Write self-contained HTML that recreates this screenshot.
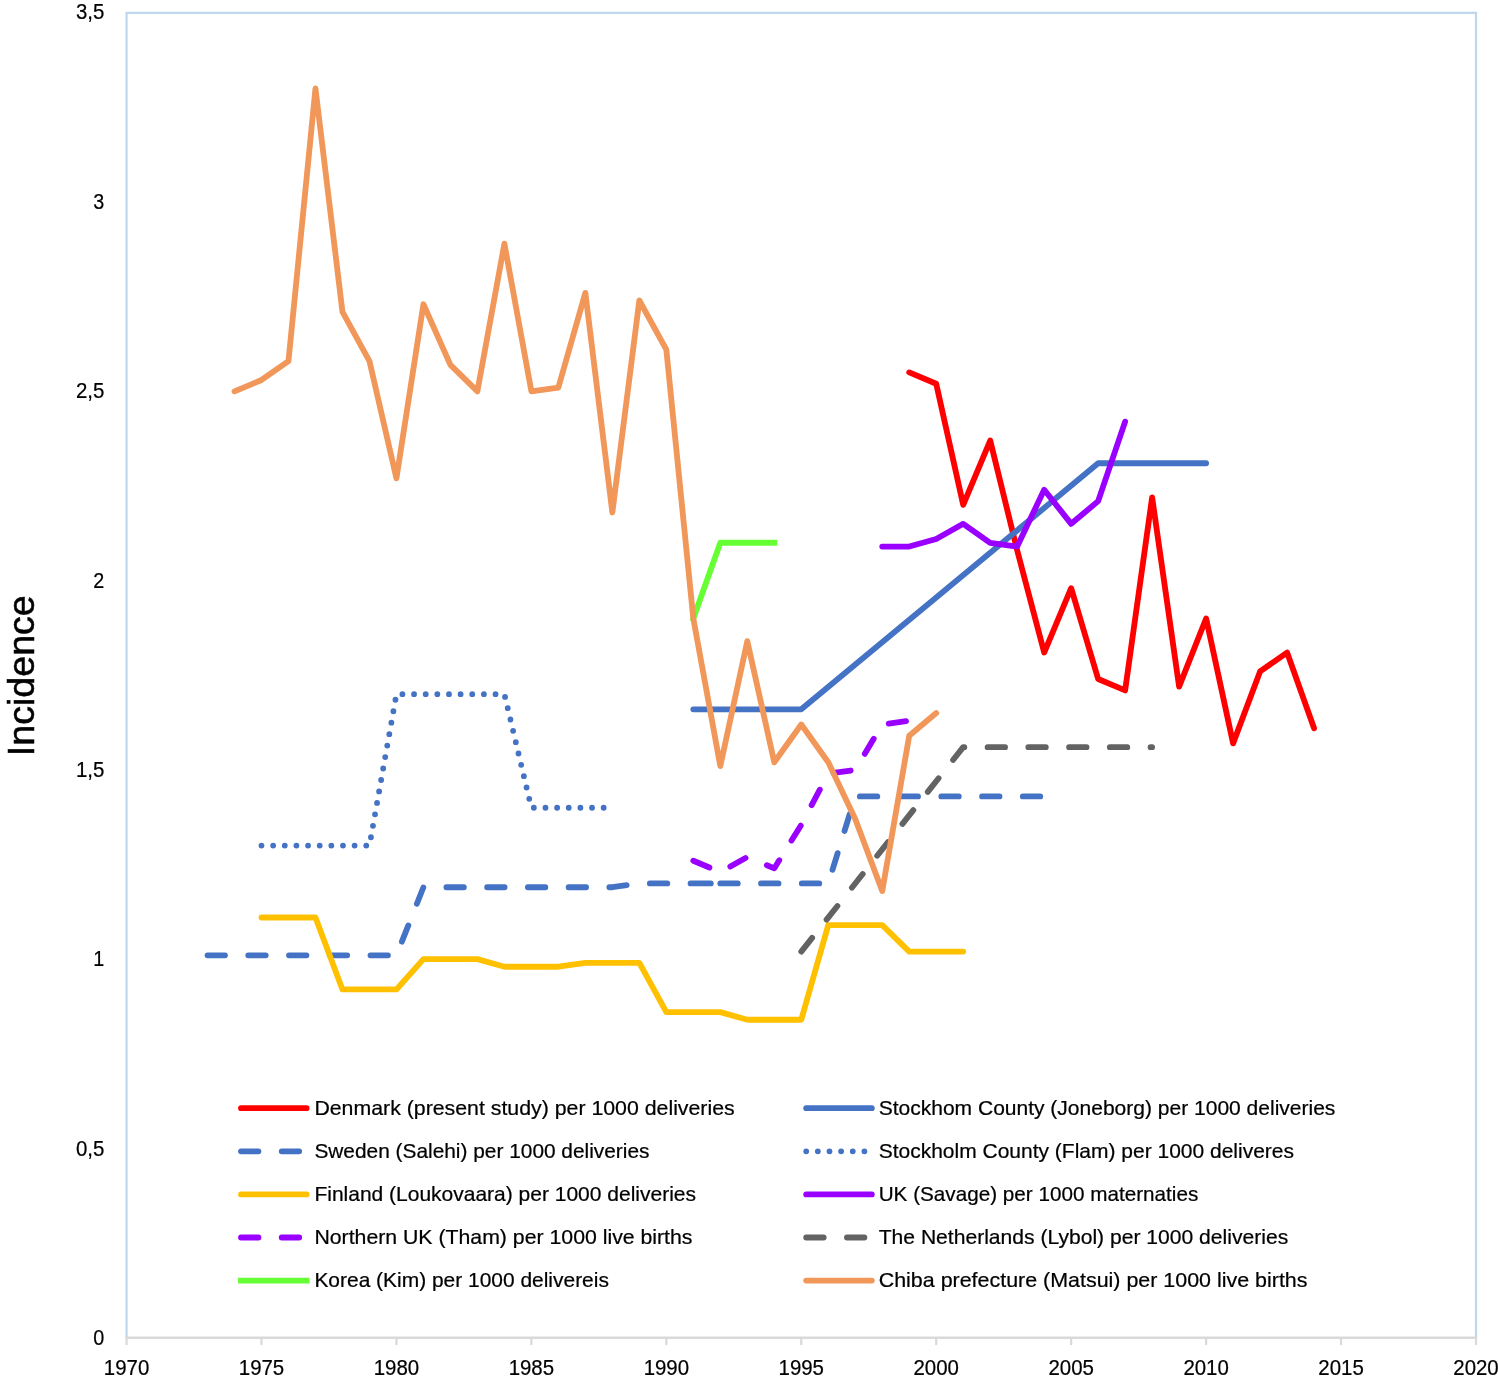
<!DOCTYPE html>
<html><head><meta charset="utf-8"><title>Incidence</title>
<style>
html,body{margin:0;padding:0;background:#fff;}
svg{display:block;}
text{font-family:"Liberation Sans",sans-serif;font-size:21.0px;fill:#000;stroke:#000;stroke-width:.22px;}
text.a{font-size:21.6px;}
.s path{fill:none;stroke-width:5.82;stroke-linecap:round;stroke-linejoin:round;}
</style></head><body>
<svg width="1498" height="1382" viewBox="0 0 1498 1382">
<rect width="1498" height="1382" fill="#fff"/>
<g><path d="M126.55 1337.70 V12.80 H1476.00 V1337.70" fill="none" stroke="#bdd7ee" stroke-width="2.2"/>
<path d="M125.45 1337.70 H1477.10" fill="none" stroke="#d9d9d9" stroke-width="2.4"/>
<path d="M126.55 1337.70 V1345.10" stroke="#d9d9d9" stroke-width="2.2"/>
<path d="M261.50 1337.70 V1345.10" stroke="#d9d9d9" stroke-width="2.2"/>
<path d="M396.44 1337.70 V1345.10" stroke="#d9d9d9" stroke-width="2.2"/>
<path d="M531.38 1337.70 V1345.10" stroke="#d9d9d9" stroke-width="2.2"/>
<path d="M666.33 1337.70 V1345.10" stroke="#d9d9d9" stroke-width="2.2"/>
<path d="M801.27 1337.70 V1345.10" stroke="#d9d9d9" stroke-width="2.2"/>
<path d="M936.22 1337.70 V1345.10" stroke="#d9d9d9" stroke-width="2.2"/>
<path d="M1071.16 1337.70 V1345.10" stroke="#d9d9d9" stroke-width="2.2"/>
<path d="M1206.11 1337.70 V1345.10" stroke="#d9d9d9" stroke-width="2.2"/>
<path d="M1341.06 1337.70 V1345.10" stroke="#d9d9d9" stroke-width="2.2"/>
<path d="M1476.00 1337.70 V1345.10" stroke="#d9d9d9" stroke-width="2.2"/></g>
<g class="s">
<path d="M909.23 372.42 L936.22 383.77 L963.21 504.91 L990.20 440.55 L1017.19 550.33 L1044.18 652.54 L1071.16 588.19 L1098.15 679.04 L1125.14 690.39 L1152.13 497.33 L1179.12 686.61 L1206.11 618.47 L1233.10 743.39 L1260.09 671.46 L1287.08 652.54 L1314.07 728.25" stroke="#ff0000" />
<path d="M693.32 709.32 L801.27 709.32 L1098.15 463.27 L1206.11 463.27" stroke="#4472c4" />
<path d="M207.52 955.37 L234.51 955.37 L261.50 955.37 L288.48 955.37 L315.47 955.37 L342.46 955.37 L369.45 955.37 L396.44 955.37 L423.43 887.23 L450.42 887.23 L477.41 887.23 L504.40 887.23 L531.38 887.23 L558.37 887.23 L585.36 887.23 L612.35 887.23 L639.34 883.45 L666.33 883.45 L693.32 883.45 M693.32 883.45 L720.31 883.45 M720.31 883.45 L747.30 883.45 L774.29 883.45 L801.27 883.45 L828.26 883.45 L855.25 796.38 L882.24 796.38 L909.23 796.38 L936.22 796.38 L963.21 796.38 L990.20 796.38 L1017.19 796.38 L1044.18 796.38" stroke="#4472c4" stroke-dasharray="17.46 23.28"/>
<path d="M261.50 845.59 L288.48 845.59 L315.47 845.59 L342.46 845.59 L369.45 845.59 L396.44 694.18 L423.43 694.18 L450.42 694.18 L477.41 694.18 L504.40 694.18 L531.38 807.74 L558.37 807.74 L585.36 807.74 L612.35 807.74" stroke="#4472c4" stroke-dasharray="0 11.64"/>
<path d="M261.50 917.52 L288.48 917.52 L315.47 917.52 L342.46 989.44 L369.45 989.44 L396.44 989.44 L423.43 959.16 L450.42 959.16 L477.41 959.16 L504.40 966.73 L531.38 966.73 L558.37 966.73 L585.36 962.94 L612.35 962.94 L639.34 962.94 L666.33 1012.15 L693.32 1012.15 L720.31 1012.15 L747.30 1019.72 L774.29 1019.72 L801.27 1019.72 L828.26 925.09 L855.25 925.09 L882.24 925.09 L909.23 951.59 L936.22 951.59 L963.21 951.59" stroke="#ffc000" />
<path d="M882.24 546.55 L909.23 546.55 L936.22 538.97 L963.21 523.83 L990.20 542.76 L1017.19 546.55 L1044.18 489.76 L1071.16 523.83 L1098.15 501.12 L1125.14 421.63" stroke="#9900ff" />
<path d="M693.32 860.74 L720.31 872.09 L747.30 856.95 L774.29 868.31 L801.27 824.77 L828.26 773.67 L855.25 769.89 L882.24 724.46 L909.23 720.68" stroke="#9900ff" stroke-dasharray="17.46 23.28"/>
<path d="M801.27 951.59 L963.21 747.17 L1152.13 747.17" stroke="#636363" stroke-dasharray="17.46 23.28"/>
<path d="M693.32 618.47 L720.31 542.76 L774.29 542.76" stroke="#66ff33" style="stroke-linecap:square"/>
<path d="M234.51 391.34 L261.50 379.99 L288.48 361.06 L315.47 88.51 L342.46 311.85 L369.45 361.06 L396.44 478.41 L423.43 304.28 L450.42 364.84 L477.41 391.34 L504.40 243.71 L531.38 391.34 L558.37 387.56 L585.36 292.92 L612.35 512.48 L639.34 300.49 L666.33 349.70 L693.32 618.47 L720.31 766.10 L747.30 641.18 L774.29 762.31 L801.27 724.46 L828.26 762.31 L855.25 819.10 L882.24 891.02 L909.23 735.82 L936.22 713.10" stroke="#f1975a" />
</g>
<g class="s">
<path d="M241.00 1108.20 H306.60" stroke="#ff0000"/>
<path d="M241.00 1151.30 H306.60" stroke="#4472c4" stroke-dasharray="17.46 23.28"/>
<path d="M241.00 1194.40 H306.60" stroke="#ffc000"/>
<path d="M241.00 1237.50 H306.60" stroke="#9900ff" stroke-dasharray="17.46 23.28"/>
<path d="M241.00 1280.60 H306.60" stroke="#66ff33" style="stroke-linecap:square"/>
<path d="M806.20 1108.20 H871.80" stroke="#4472c4"/>
<path d="M806.20 1151.30 H871.80" stroke="#4472c4" stroke-dasharray="0 11.64"/>
<path d="M806.20 1194.40 H871.80" stroke="#9900ff"/>
<path d="M806.20 1237.50 H871.80" stroke="#636363" stroke-dasharray="17.46 23.28"/>
<path d="M806.20 1280.60 H871.80" stroke="#f1975a"/>
</g>
<g>
<text class="a" x="126.55" y="1374.9" text-anchor="middle" textLength="45.4" lengthAdjust="spacingAndGlyphs">1970</text>
<text class="a" x="261.50" y="1374.9" text-anchor="middle" textLength="45.4" lengthAdjust="spacingAndGlyphs">1975</text>
<text class="a" x="396.44" y="1374.9" text-anchor="middle" textLength="45.4" lengthAdjust="spacingAndGlyphs">1980</text>
<text class="a" x="531.38" y="1374.9" text-anchor="middle" textLength="45.4" lengthAdjust="spacingAndGlyphs">1985</text>
<text class="a" x="666.33" y="1374.9" text-anchor="middle" textLength="45.4" lengthAdjust="spacingAndGlyphs">1990</text>
<text class="a" x="801.27" y="1374.9" text-anchor="middle" textLength="45.4" lengthAdjust="spacingAndGlyphs">1995</text>
<text class="a" x="936.22" y="1374.9" text-anchor="middle" textLength="45.4" lengthAdjust="spacingAndGlyphs">2000</text>
<text class="a" x="1071.16" y="1374.9" text-anchor="middle" textLength="45.4" lengthAdjust="spacingAndGlyphs">2005</text>
<text class="a" x="1206.11" y="1374.9" text-anchor="middle" textLength="45.4" lengthAdjust="spacingAndGlyphs">2010</text>
<text class="a" x="1341.06" y="1374.9" text-anchor="middle" textLength="45.4" lengthAdjust="spacingAndGlyphs">2015</text>
<text class="a" x="1476.00" y="1374.9" text-anchor="middle" textLength="45.4" lengthAdjust="spacingAndGlyphs">2020</text>
<text class="a" x="104.3" y="1345.20" text-anchor="end" textLength="11.0" lengthAdjust="spacingAndGlyphs">0</text>
<text class="a" x="104.3" y="1155.79" text-anchor="end" textLength="28.4" lengthAdjust="spacingAndGlyphs">0,5</text>
<text class="a" x="104.3" y="966.37" text-anchor="end" textLength="11.0" lengthAdjust="spacingAndGlyphs">1</text>
<text class="a" x="104.3" y="776.96" text-anchor="end" textLength="28.4" lengthAdjust="spacingAndGlyphs">1,5</text>
<text class="a" x="104.3" y="587.54" text-anchor="end" textLength="11.0" lengthAdjust="spacingAndGlyphs">2</text>
<text class="a" x="104.3" y="398.13" text-anchor="end" textLength="28.4" lengthAdjust="spacingAndGlyphs">2,5</text>
<text class="a" x="104.3" y="208.71" text-anchor="end" textLength="11.0" lengthAdjust="spacingAndGlyphs">3</text>
<text class="a" x="104.3" y="19.30" text-anchor="end" textLength="28.4" lengthAdjust="spacingAndGlyphs">3,5</text>
<text transform="translate(33.55 756.2) rotate(-90)" style="font-size:36.8px;stroke:#000;stroke-width:.5" textLength="161.0" lengthAdjust="spacingAndGlyphs">Incidence</text>
<text x="314.40" y="1115.00" textLength="420.3" lengthAdjust="spacingAndGlyphs">Denmark (present study) per 1000 deliveries</text>
<text x="314.40" y="1158.10" textLength="335.1" lengthAdjust="spacingAndGlyphs">Sweden (Salehi) per 1000 deliveries</text>
<text x="314.40" y="1201.20" textLength="381.6" lengthAdjust="spacingAndGlyphs">Finland (Loukovaara) per 1000 deliveries</text>
<text x="314.40" y="1244.30" textLength="378.1" lengthAdjust="spacingAndGlyphs">Northern UK (Tham) per 1000 live births</text>
<text x="314.40" y="1287.40" textLength="294.5" lengthAdjust="spacingAndGlyphs">Korea (Kim) per 1000 delivereis</text>
<text x="878.70" y="1115.00" textLength="456.7" lengthAdjust="spacingAndGlyphs">Stockhom County (Joneborg) per 1000 deliveries</text>
<text x="878.70" y="1158.10" textLength="415.3" lengthAdjust="spacingAndGlyphs">Stockholm County (Flam) per 1000 deliveres</text>
<text x="878.70" y="1201.20" textLength="319.6" lengthAdjust="spacingAndGlyphs">UK (Savage) per 1000 maternaties</text>
<text x="878.70" y="1244.30" textLength="409.5" lengthAdjust="spacingAndGlyphs">The Netherlands (Lybol) per 1000 deliveries</text>
<text x="878.70" y="1287.40" textLength="428.8" lengthAdjust="spacingAndGlyphs">Chiba prefecture (Matsui) per 1000 live births</text>
</g>
</svg>
</body></html>
